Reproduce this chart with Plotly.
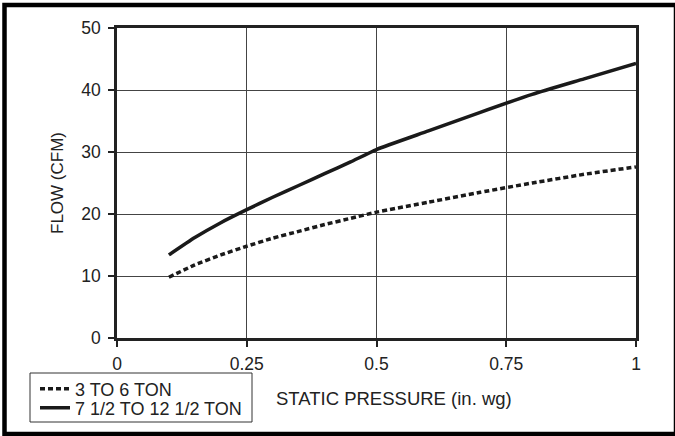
import plotly.graph_objects as go

pressure = [0.1, 0.15, 0.2, 0.25, 0.3, 0.35, 0.4, 0.45, 0.5, 0.6, 0.7, 0.8, 0.9, 1.0]
small_flow = [9.8, 11.8, 13.4, 14.8, 16.1, 17.2, 18.3, 19.3, 20.3, 21.9, 23.5, 25.0, 26.4, 27.6]
large_flow = [13.4, 16.2, 18.6, 20.7, 22.7, 24.6, 26.5, 28.4, 30.4, 33.4, 36.4, 39.3, 41.8, 44.3]
series_names = ["3 TO 6 TON", "7 1/2 TO 12 1/2 TON"]
x_ticks = [0, 0.25, 0.5, 0.75, 1]
x_tick_labels = ["0", "0.25", "0.5", "0.75", "1"]
y_ticks = [0, 10, 20, 30, 40, 50]

FONT = "Liberation Sans, Arial, sans-serif"
W, H = 675, 436
L, R, T, B = 117, 39, 28, 98
pw, ph = W - L - R, H - T - B

def px(x):
    return (x - L) / pw

def py(y):
    return (H - B - y) / ph

fig = go.Figure()
fig.add_trace(go.Scatter(x=pressure, y=small_flow, mode="lines", name=series_names[0],
                         legend="legend",
                         line=dict(color="#1a1a1a", width=3.5, dash="5px,3px",
                                   shape="spline", smoothing=0.5)))
fig.add_trace(go.Scatter(x=pressure, y=large_flow, mode="lines", name=series_names[1],
                         legend="legend2",
                         line=dict(color="#1a1a1a", width=3.5,
                                   shape="spline", smoothing=0.5)))

axis_common = dict(showline=True, linecolor="#222", linewidth=2.5, mirror=True,
                   showgrid=True, gridcolor="#444", gridwidth=1,
                   ticks="outside", ticklen=6, tickwidth=2, tickcolor="#222",
                   tickfont=dict(family=FONT, size=17.5, color="#222"), zeroline=False)

fig.update_xaxes(range=[0, 1], tickvals=x_ticks, ticktext=x_tick_labels,
                 ticklabelstandoff=2, **axis_common)
fig.update_yaxes(range=[0, 50], tickvals=y_ticks, ticklabelstandoff=4, **axis_common)

legend_common = dict(xanchor="left", yanchor="middle", borderwidth=0,
                     bgcolor="rgba(0,0,0,0)", itemwidth=30,
                     font=dict(family=FONT, size=18, color="#222"))

fig.update_layout(
    width=W, height=H,
    margin=dict(l=L, r=R, t=T, b=B, autoexpand=False),
    paper_bgcolor="white", plot_bgcolor="white",
    font=dict(family=FONT, size=17.5, color="#222"),
    showlegend=True,
    legend=dict(x=px(35), y=py(389), **legend_common),
    legend2=dict(x=px(35), y=py(408), **legend_common),
    annotations=[
        dict(text="STATIC PRESSURE (in. wg)", xref="paper", yref="paper",
             x=px(394), y=py(398), xanchor="center", yanchor="middle",
             showarrow=False, font=dict(family=FONT, size=18.5, color="#222")),
        dict(text="FLOW (CFM)", xref="paper", yref="paper", textangle=-90,
             x=px(57), y=py(183), xanchor="center", yanchor="middle",
             showarrow=False, font=dict(family=FONT, size=17, color="#222")),
    ],
    shapes=[
        dict(type="rect", xref="paper", yref="paper",
             x0=px(30), x1=px(252), y0=py(422), y1=py(373),
             line=dict(color="#333", width=1), layer="above"),
        dict(type="rect", xref="paper", yref="paper",
             x0=px(4.5), x1=px(676), y0=py(434), y1=py(5),
             line=dict(color="black", width=4.5), layer="above"),
    ],
)

fig.write_html("out.html", config={"displayModeBar": False},
               post_script="document.body.style.margin='0';")
